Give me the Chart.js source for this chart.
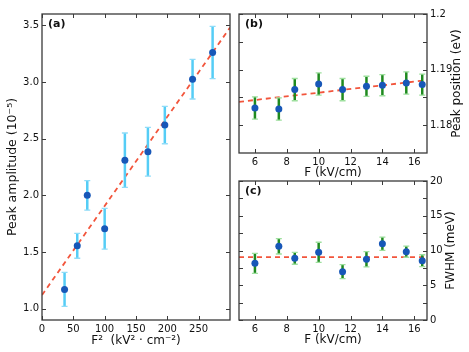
<!DOCTYPE html>
<html>
<head>
<meta charset="utf-8">
<script src="https://cdn.jsdelivr.net/npm/chart.js@4/dist/chart.umd.min.js"></script>
<style>
  html, body { margin: 0; padding: 0; background: #fff; }
  body { width: 469px; height: 352px; position: relative; overflow: hidden; }
  canvas { position: absolute; }
  #chartA { left: 0; top: 0; }
  #chartB { left: 235px; top: 0; }
  #chartC { left: 235px; top: 170px; }
</style>
</head>
<body>
<canvas id="chartA" width="240" height="352"></canvas>
<canvas id="chartB" width="234" height="180"></canvas>
<canvas id="chartC" width="234" height="182"></canvas>
<script>
// field values, F (kV/cm) and F^2 (kV^2 cm^-2)
const fieldKV = [6, 7.5, 8.5, 10, 11.5, 13, 14, 15.5, 16.5];
const fieldSq = [36, 56.25, 72.25, 100, 132.25, 169, 196, 240.25, 272.25];

// (a) peak amplitude (10^-5)
const amplitude = [1.17, 1.555, 2.0, 1.705, 2.31, 2.385, 2.62, 3.025, 3.26];
const amplitudeErr = [0.15, 0.11, 0.13, 0.18, 0.24, 0.215, 0.165, 0.175, 0.23];
const amplitudeFitX = [0, 300];
const amplitudeFitY = [1.12, 3.48];

// (b) peak position (eV)
const position = [1.1831, 1.1829, 1.1864, 1.1874, 1.1864, 1.1870, 1.1872, 1.1876, 1.1873];
const positionErr = [0.002, 0.002, 0.002, 0.002, 0.002, 0.0018, 0.0019, 0.002, 0.0019];
const positionFitX = [5, 16.8];
const positionFitY = [1.1842, 1.1881];

// (c) FWHM (meV)
const fwhm = [8.15, 10.6, 8.87, 9.74, 6.96, 8.73, 10.98, 9.83, 8.54];
const fwhmErr = [1.45, 1.1, 0.85, 1.45, 1.0, 1.1, 0.95, 0.8, 0.85];
const fwhmFitX = [5, 16.8];
const fwhmFitY = [9.05, 9.05];

// ticks
const ampXTicks = [0, 50, 100, 150, 200, 250];
const ampYTicks = [1.0, 1.5, 2.0, 2.5, 3.0, 3.5];
const fieldTicks = [6, 8, 10, 12, 14, 16];
const posTicks = [1.18, 1.185, 1.19, 1.195, 1.2];
const posTickLabels = ['1.18', '', '1.19', '', '1.2'];
const fwhmTicks = [0, 2.5, 5, 7.5, 10, 12.5, 15, 17.5, 20];
const fwhmTickLabels = ['0', '', '5', '', '10', '', '15', '', '20'];

Chart.defaults.font.family = 'DejaVu Sans';
Chart.defaults.color = '#111';

const frameColor = '#3a3a3a';
const fitColor = '#f2553c';
const markerColor = '#1757b8';

function setWidth(w) { return scale => { scale.width = w; }; }
function setHeight(h) { return scale => { scale.height = h; }; }
function useTicks(values) { return scale => { scale.ticks = values.map(v => ({ value: v })); }; }
function toPoints(xs, ys) { return xs.map((x, i) => ({ x: x, y: ys[i] })); }

// error bars drawn just before their dataset, through the chart's scales
const errorBars = {
  id: 'errorBars',
  beforeDatasetDraw(chart, args) {
    const ds = chart.data.datasets[args.index];
    if (!ds.errors) return;
    const { ctx, scales } = chart;
    ctx.save();
    ds.data.forEach((p, i) => {
      const x = scales.x.getPixelForValue(p.x);
      const y1 = scales.y.getPixelForValue(p.y - ds.errors[i]);
      const y2 = scales.y.getPixelForValue(p.y + ds.errors[i]);
      ctx.strokeStyle = ds.barColor;
      ctx.lineWidth = 2.5;
      ctx.beginPath();
      ctx.moveTo(x, y1); ctx.lineTo(x, y2);
      ctx.stroke();
      ctx.strokeStyle = ds.capColor;
      ctx.lineWidth = 1.3;
      ctx.beginPath();
      ctx.moveTo(x - 3, y1); ctx.lineTo(x + 3, y1);
      ctx.moveTo(x - 3, y2); ctx.lineTo(x + 3, y2);
      ctx.stroke();
    });
    ctx.restore();
  }
};

// box, inward ticks, panel letter, right-hand title
const frame = {
  id: 'frame',
  afterDatasetsDraw(chart, args, opts) {
    const { ctx, chartArea: a, scales } = chart;
    const len = 4;
    ctx.save();
    ctx.strokeStyle = frameColor;
    ctx.lineWidth = 1;
    ctx.beginPath();
    scales.x.ticks.forEach(t => {
      const px = Math.round(scales.x.getPixelForValue(t.value)) + 0.5;
      ctx.moveTo(px, a.bottom); ctx.lineTo(px, a.bottom - len);
      ctx.moveTo(px, a.top); ctx.lineTo(px, a.top + len);
    });
    scales.y.ticks.forEach(t => {
      const py = Math.round(scales.y.getPixelForValue(t.value)) + 0.5;
      ctx.moveTo(a.left, py); ctx.lineTo(a.left + len, py);
      ctx.moveTo(a.right, py); ctx.lineTo(a.right - len, py);
    });
    ctx.stroke();
    ctx.lineWidth = 1.3;
    ctx.strokeRect(a.left, a.top, a.right - a.left, a.bottom - a.top);

    ctx.fillStyle = '#111';
    ctx.font = 'bold 11px "DejaVu Sans"';
    ctx.textBaseline = 'middle';
    ctx.textAlign = 'left';
    ctx.fillText(opts.label, a.left + 6, a.top + opts.labelDy);

    if (opts.rightTitle) {
      ctx.font = '12px "DejaVu Sans"';
      ctx.textAlign = 'center';
      ctx.translate(opts.rightTitleX, (a.top + a.bottom) / 2);
      ctx.rotate(-Math.PI / 2);
      ctx.fillText(opts.rightTitle, 0, 0);
    }
    ctx.restore();
  }
};

function makePanel(id, cfg) {
  return new Chart(document.getElementById(id), {
    type: 'scatter',
    data: {
      datasets: [
        {
          data: toPoints(cfg.xs, cfg.ys),
          errors: cfg.errs,
          barColor: cfg.barColor,
          capColor: cfg.capColor,
          pointRadius: 3.5,
          pointBackgroundColor: markerColor,
          pointBorderWidth: 0,
          order: 0
        },
        {
          data: toPoints(cfg.fitX, cfg.fitY),
          showLine: true,
          borderColor: fitColor,
          borderWidth: 1.8,
          borderDash: [5, 4],
          pointRadius: 0,
          order: 1
        }
      ]
    },
    options: {
      responsive: false,
      animation: false,
      layout: { padding: cfg.padding },
      plugins: {
        legend: { display: false },
        tooltip: { enabled: false },
        frame: cfg.frame
      },
      scales: {
        x: {
          type: 'linear',
          min: cfg.xMin, max: cfg.xMax,
          afterBuildTicks: useTicks(cfg.xTicks),
          afterFit: setHeight(cfg.xHeight),
          grid: { display: false, drawTicks: false },
          border: { display: false },
          ticks: { font: { size: 10 }, padding: 3, maxRotation: 0, autoSkip: false },
          title: { display: true, text: cfg.xTitle, font: { size: 12 }, padding: { top: 0, bottom: cfg.xTitlePad } }
        },
        y: {
          type: 'linear',
          position: cfg.yPosition,
          min: cfg.yMin, max: cfg.yMax,
          afterBuildTicks: useTicks(cfg.yTicks),
          afterFit: setWidth(42),
          grid: { display: false, drawTicks: false },
          border: { display: false },
          ticks: { font: { size: 10 }, padding: 3, autoSkip: false, callback: cfg.yLabel },
          title: cfg.yTitle
        }
      }
    },
    plugins: [errorBars, frame]
  });
}

makePanel('chartA', {
  xs: fieldSq, ys: amplitude, errs: amplitudeErr,
  fitX: amplitudeFitX, fitY: amplitudeFitY,
  barColor: '#55cdf6', capColor: '#8fdcf8',
  padding: { left: 0, top: 14, right: 10, bottom: 0 },
  xMin: 0, xMax: 300, xTicks: ampXTicks, xHeight: 32,
  xTitle: 'F²  (kV² · cm⁻²)', xTitlePad: 4,
  yPosition: 'left', yMin: 0.9, yMax: 3.6, yTicks: ampYTicks,
  yLabel: v => v.toFixed(1),
  yTitle: { display: true, text: 'Peak amplitude (10⁻⁵)', font: { size: 12.5 }, padding: { top: 5, bottom: 0 } },
  frame: { label: '(a)', labelDy: 10 }
});

makePanel('chartB', {
  xs: fieldKV, ys: position, errs: positionErr,
  fitX: positionFitX, fitY: positionFitY,
  barColor: '#1f8a1f', capColor: '#9ee09e',
  padding: { left: 4, top: 14, right: 0, bottom: 0 },
  xMin: 5, xMax: 16.8, xTicks: fieldTicks, xHeight: 27,
  xTitle: 'F (kV/cm)', xTitlePad: 0,
  yPosition: 'right', yMin: 1.175, yMax: 1.2, yTicks: posTicks,
  yLabel: (v, i) => posTickLabels[i],
  yTitle: { display: false },
  frame: { label: '(b)', labelDy: 10, rightTitle: 'Peak position (eV)', rightTitleX: 222 }
});

makePanel('chartC', {
  xs: fieldKV, ys: fwhm, errs: fwhmErr,
  fitX: fwhmFitX, fitY: fwhmFitY,
  barColor: '#1f8a1f', capColor: '#9ee09e',
  padding: { left: 4, top: 11, right: 0, bottom: 0 },
  xMin: 5, xMax: 16.8, xTicks: fieldTicks, xHeight: 32,
  xTitle: 'F (kV/cm)', xTitlePad: 5,
  yPosition: 'right', yMin: 0, yMax: 20, yTicks: fwhmTicks,
  yLabel: (v, i) => fwhmTickLabels[i],
  yTitle: { display: false },
  frame: { label: '(c)', labelDy: 10, rightTitle: 'FWHM (meV)', rightTitleX: 216 }
});
</script>
</body>
</html>
